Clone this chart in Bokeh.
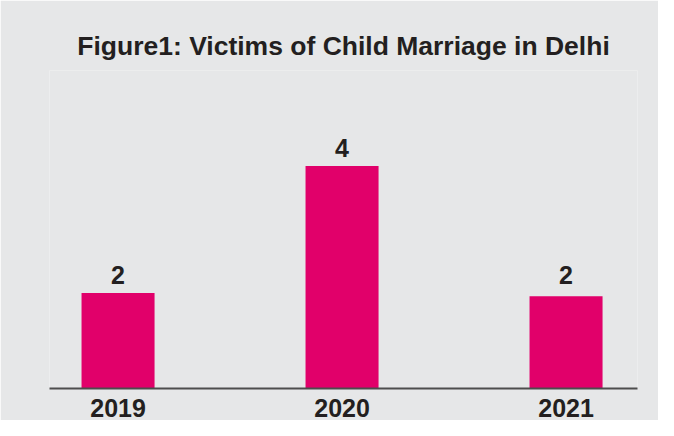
from bokeh.plotting import figure
from bokeh.models import Range1d, FixedTicker, ColumnDataSource, LinearAxis
from bokeh.embed import file_html
from bokeh.resources import INLINE
from bokeh.core.properties import value

# data
years = ["2019", "2020", "2021"]
victims = [2, 4, 1.95]
value_labels = ["2", "4", "2"]
positions = [0.5, 1.5, 2.5]
label_levels = [2, 4, 2]

BG = "#E6E7E8"
BAR = "#E1006A"
TXT = "#231F20"
FONT = "Liberation Sans"

p = figure(width=658, height=420, output_backend="svg", toolbar_location=None,
           x_range=Range1d(0.194, 2.819), y_range=Range1d(0.5, 5.5),
           x_axis_location=None, y_axis_location=None,
           min_border_left=49, min_border_right=21, min_border_top=70, min_border_bottom=32,
           background_fill_color=BG, border_fill_color=BG)
p.outline_line_color = None
p.xgrid.visible = False
p.ygrid.visible = False

p.title.text = "Figure1: Victims of Child Marriage in Delhi"
p.title.align = "center"
p.title.text_font = FONT
p.title.text_font_size = "26.5px"
p.title.text_font_style = "bold"
p.title.text_color = TXT
p.title.standoff = 19

src = ColumnDataSource(dict(x=positions, top=victims, lab=value_labels, ly=label_levels))
p.vbar(x="x", top="top", bottom=0, width=0.326, source=src, fill_color=BAR, line_color=None)
p.text(x="x", y="ly", text="lab", source=src, text_align="center", text_baseline="bottom",
       y_offset=-9, text_font=value(FONT), text_font_size="25px", text_font_style="bold",
       text_color=TXT)

xaxis = LinearAxis(ticker=FixedTicker(ticks=positions),
                   major_label_overrides={pos: y for pos, y in zip(positions, years)})
xaxis.axis_line_color = "#4D4D4D"
xaxis.axis_line_width = 2
xaxis.major_tick_line_color = None
xaxis.minor_tick_line_color = None
xaxis.major_tick_out = 0
xaxis.major_tick_in = 0
xaxis.major_label_standoff = 10
xaxis.major_label_text_font = FONT
xaxis.major_label_text_font_size = "25px"
xaxis.major_label_text_font_style = "bold"
xaxis.major_label_text_color = TXT
p.add_layout(xaxis, "below")

open("out.html", "w").write(file_html(p, INLINE))
